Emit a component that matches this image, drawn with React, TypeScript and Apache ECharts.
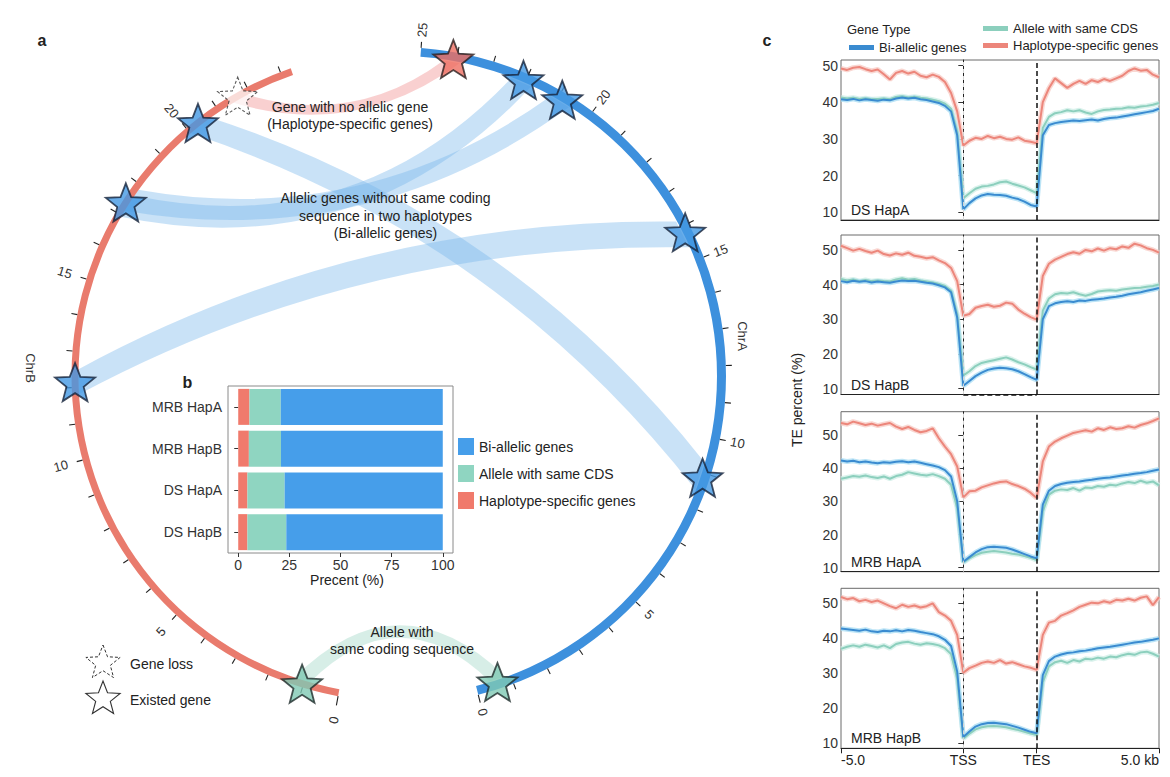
import React, { useEffect, useRef } from "react";
import * as echarts from "echarts";

// ===================== Panel a : two haplotype chromosomes =====================
const CHR_A_LEN = 25;
const CHR_B_LEN = 23.3;
const CHR_A_TICKS = [0, 1, 2, 3, 4, 5, 6, 7, 8, 9, 10, 11, 12, 13, 14, 15, 16, 17, 18, 19, 20, 21, 22, 23, 24, 25];
const CHR_B_TICKS = [0, 1, 2, 3, 4, 5, 6, 7, 8, 9, 10, 11, 12, 13, 14, 15, 16, 17, 18, 19, 20, 21, 22, 23];
const CHR_A_LABELS = [0, 5, 10, 15, 20, 25];
const CHR_B_LABELS = [0, 5, 10, 15, 20];

// genes (stars): position on chromosome, kind
const STAR_A_POS = [24.09, 22.07, 20.87, 15.82, 8.87, 0.6];
const STAR_A_KIND = ["specific", "bi", "bi", "bi", "bi", "same"];
const STAR_B_POS = [21.66, 20.34, 17.37, 12.15, 1.04];
const STAR_B_KIND = ["loss", "bi", "bi", "bi", "same"];

// links between ChrB interval and ChrA interval
const LINK_B_START = [20.0, 11.8, 16.95, 17.15, 21.45, 0.85];
const LINK_B_END = [20.7, 12.5, 17.65, 17.85, 21.9, 1.3];
const LINK_A_START = [8.5, 15.4, 21.8, 20.6, 23.9, 0.4];
const LINK_A_END = [9.3, 16.2, 22.4, 21.2, 24.35, 0.85];
const LINK_KIND = [0, 0, 0, 0, 1, 2]; // 0 bi-allelic, 1 haplotype-specific, 2 same CDS
const LINK_BEND = [0.15, 0.13, -0.28, -0.21, -0.25, 0.49];

// ===================== Panel b : proportions =====================
const B_CATS = ["MRB HapA", "MRB HapB", "DS HapA", "DS HapB"];
const B_SPECIFIC = [5.5, 5.2, 4.5, 4.5];
const B_SAME = [15.3, 15.7, 18.2, 19.0];
const B_BI = [79.2, 79.1, 77.3, 76.5];
const B_TICKS = [0, 25, 50, 75, 100];

// ===================== Panel c : TE profiles =====================
const C_PANELS = ["DS HapA", "DS HapB", "MRB HapA", "MRB HapB"];
const C_Y_TICKS = [10, 20, 30, 40, 50];
const X_TICKS = [-5, 0, 3, 8];
const X_TICK_LABELS = ["-5.0", "TSS", "TES", "5.0 kb"];
// bin positions (kb from TSS; gene body scaled to 0..3)
const X_KB = Array.from({ length: 53 }, (_, i) => -5 + i * 0.25);

const DS_HAPA_SPEC = [49.2, 48.8, 49.4, 49.6, 49.0, 48.5, 48.9, 47.6, 46.2, 48.0,
  48.5, 47.8, 48.3, 47.2, 46.8, 47.5, 46.9, 45.5, 42.5, 37.5,
  28.2, 29.5, 30.3, 30.0, 30.8, 30.2, 30.6, 30.0, 29.8, 30.4,
  29.5, 29.2, 28.8, 40.0, 43.8, 46.5, 45.2, 43.9, 45.0, 45.8,
  45.0, 46.0, 45.5, 46.3, 45.8, 46.5, 47.2, 48.5, 49.2, 48.6,
  48.8, 47.5, 46.8];
const DS_HAPA_BI = [40.8, 40.6, 40.9, 40.5, 40.8, 40.6, 40.4, 40.7, 40.5, 41.0,
  41.3, 41.0, 41.2, 40.8, 40.6, 40.2, 39.8, 39.0, 37.5, 31.0,
  10.8, 12.5, 13.8, 14.6, 15.0, 14.8, 14.7, 14.5, 14.0, 13.6,
  12.9, 12.0, 11.6, 31.0, 33.8, 34.3, 34.6, 34.8, 35.0, 34.9,
  35.1, 35.3, 35.0, 35.4, 35.7, 35.8, 36.1, 36.4, 36.7, 37.0,
  37.3, 37.6, 38.2];
const DS_HAPA_SAME = [41.3, 41.0, 41.2, 40.9, 41.1, 40.8, 40.9, 41.0, 40.8, 41.4,
  41.6, 41.3, 41.5, 41.2, 41.0, 40.7, 40.3, 39.6, 38.2, 32.0,
  13.8, 15.2, 16.4, 17.0, 17.2, 17.6, 18.2, 18.4, 17.8, 17.3,
  16.8, 16.0, 15.2, 33.0, 36.0, 37.0, 37.3, 37.8, 37.5, 37.8,
  37.2, 36.8, 37.5, 37.9, 38.0, 38.2, 38.3, 38.6, 38.5, 38.8,
  39.0, 39.3, 39.8];
const DS_HAPB_SPEC = [51.2, 50.5, 49.8, 50.3, 49.7, 49.2, 49.8, 48.8, 48.4, 49.0,
  48.6, 49.2, 48.3, 48.0, 47.6, 47.9, 47.0, 46.2, 44.8, 41.0,
  31.0, 31.5, 33.3, 33.8, 34.2, 33.6, 33.9, 34.8, 34.5, 32.8,
  31.6, 30.6, 29.9, 42.5, 46.0, 47.2, 48.0, 48.8, 49.3, 48.9,
  50.0, 49.6, 50.4, 49.8, 50.5, 50.2, 51.0, 50.6, 51.8, 51.3,
  50.5, 50.0, 49.2];
const DS_HAPB_BI = [41.0, 40.7, 41.1, 40.8, 41.0, 40.6, 40.9, 40.7, 40.5, 40.9,
  41.2, 41.0, 41.1, 40.8, 40.5, 40.3, 39.8, 39.2, 37.8, 30.5,
  10.8, 12.2, 13.6, 14.6, 15.4, 15.8, 16.0, 15.9, 15.6, 15.0,
  14.2, 13.3, 12.5, 30.0, 33.8, 34.6, 35.0, 35.2, 35.0, 35.4,
  35.3, 35.6, 35.8, 36.0, 36.3, 36.5, 36.8, 37.2, 37.5, 37.8,
  38.2, 38.6, 39.0];
const DS_HAPB_SAME = [41.6, 41.2, 41.5, 41.0, 41.3, 41.0, 41.2, 41.0, 40.9, 41.5,
  41.8, 41.4, 41.6, 41.2, 40.9, 40.6, 40.2, 39.6, 38.3, 31.5,
  13.8, 15.0, 16.5, 17.4, 17.8, 18.2, 18.6, 19.0, 18.4, 17.6,
  17.0, 16.2, 15.5, 32.5, 36.0, 37.2, 37.6, 37.4, 37.8, 37.2,
  36.8, 37.3, 38.0, 38.2, 38.4, 38.2, 38.6, 38.8, 39.0, 39.1,
  39.4, 39.6, 40.0];
const MRB_HAPA_SPEC = [53.6, 53.2, 54.0, 53.5, 53.0, 53.4, 52.8, 53.2, 53.6, 52.5,
  51.8, 52.4, 51.5, 50.8, 51.2, 52.0, 49.0, 46.5, 44.2, 40.5,
  31.2, 33.0, 33.2, 34.2, 34.8, 35.4, 35.8, 36.0, 35.2, 34.6,
  33.8, 32.6, 31.0, 42.0, 46.5, 48.0, 49.0, 49.8, 50.6, 51.0,
  51.4, 51.0, 52.0, 51.5, 52.3, 51.8, 52.0, 52.6, 52.2, 53.0,
  53.5, 54.2, 55.0];
const MRB_HAPA_BI = [42.3, 42.0, 42.2, 41.8, 42.0, 41.7, 41.5, 41.8, 41.6, 41.9,
  42.1, 41.8, 42.0, 41.6, 41.2, 40.8, 40.3, 39.4, 37.5, 30.0,
  11.8, 13.2, 14.6, 15.6, 16.2, 16.3, 16.2, 16.0, 15.5, 14.8,
  14.1, 13.4, 12.8, 29.0, 33.2, 34.6, 35.2, 35.6, 35.8, 36.0,
  36.3, 36.5, 36.8, 37.0, 37.2, 37.5, 37.8, 38.0, 38.3, 38.5,
  38.8, 39.2, 39.6];
const MRB_HAPA_SAME = [36.8, 37.2, 37.6, 37.4, 37.8, 37.3, 37.0, 37.5, 36.8, 37.6,
  38.0, 38.8, 38.4, 38.0, 37.8, 38.2, 37.6, 36.8, 35.0, 28.0,
  11.6, 12.8, 13.8, 14.5, 14.8, 15.0, 14.8, 14.6, 14.2, 14.0,
  13.5, 13.0, 12.3, 27.0, 32.0, 33.2, 33.6, 33.4, 34.0, 33.2,
  34.2, 34.0, 34.6, 34.4, 35.0, 34.8, 35.4, 35.8, 35.5, 36.2,
  35.6, 36.0, 34.8];
const MRB_HAPB_SPEC = [51.8, 51.2, 51.5, 50.6, 51.0, 50.4, 50.8, 50.0, 49.2, 48.6,
  49.6, 49.0, 49.4, 48.8, 49.2, 50.0, 47.5, 46.5, 45.0, 41.0,
  30.2, 31.5, 32.2, 33.0, 33.4, 33.0, 33.8, 32.8, 33.2, 32.6,
  32.0, 31.6, 31.0, 41.0, 44.5, 45.0, 46.5, 47.2, 48.0, 49.0,
  49.6, 50.2, 50.0, 50.6, 50.2, 51.0, 50.8, 51.3, 50.8, 51.6,
  52.0, 49.5, 51.8];
const MRB_HAPB_BI = [42.8, 42.6, 42.4, 42.2, 42.5, 42.0, 41.8, 42.2, 42.0, 42.3,
  42.0, 42.4, 42.2, 41.8, 41.5, 41.2, 40.6, 39.6, 37.8, 30.5,
  11.8, 13.4, 14.8, 15.5, 15.8, 15.9, 15.7, 15.5, 15.0, 14.5,
  13.9, 13.3, 12.9, 29.5, 33.5, 34.8, 35.4, 35.8, 36.0, 36.3,
  36.5, 36.8, 37.2, 37.4, 37.6, 37.9, 38.2, 38.5, 38.8, 39.0,
  39.3, 39.6, 40.0];
const MRB_HAPB_SAME = [37.0, 37.6, 38.0, 37.6, 38.2, 37.8, 37.4, 38.0, 37.2, 38.4,
  38.8, 39.0, 38.5, 38.2, 38.6, 38.4, 38.0, 37.2, 35.5, 28.5,
  11.4, 12.8, 14.0, 14.6, 14.9, 15.0, 14.8, 14.6, 14.2, 13.8,
  13.3, 12.8, 12.4, 27.5, 32.0, 33.2, 33.6, 33.0, 33.8, 33.4,
  34.2, 34.0, 34.5, 34.2, 34.8, 34.6, 35.2, 35.6, 35.3, 36.0,
  36.2, 35.6, 34.8];

const C_SPEC = [DS_HAPA_SPEC, DS_HAPB_SPEC, MRB_HAPA_SPEC, MRB_HAPB_SPEC];
const C_SAME = [DS_HAPA_SAME, DS_HAPB_SAME, MRB_HAPA_SAME, MRB_HAPB_SAME];
const C_BI = [DS_HAPA_BI, DS_HAPB_BI, MRB_HAPA_BI, MRB_HAPB_BI];

// ===================== layout / style =====================
const FONT = "'Liberation Sans', Arial, Helvetica, sans-serif";
const TXT = "#222";
const CX = 397;
const CY = 376;
const R_MAX = 400;
const DEG_PER_UNIT = 6.46;
const FULL_TURN = 360 / DEG_PER_UNIT;
const START_ANGLE = 284.3;
const B_ORIGIN = 51.9;
const gA = (v: number) => v;
const gB = (v: number) => B_ORIGIN - v;
const R_LINK = 319;
const R_STAR = 322;

const BLUE_BAR = "#469eea";
const TEAL_BAR = "#8fd5c1";
const RED_BAR = "#f07a6c";
const C_BLUE = "#3a8bd0";
const C_TEAL = "#8ccfbd";
const C_RED = "#ec867b";
const H_BLUE = "#a6dbf3";
const H_TEAL = "#cdeee5";
const H_RED = "#f7c9c3";

const RIBBON_FILL = ["rgba(120,182,236,0.40)", "rgba(244,170,170,0.55)", "rgba(160,214,198,0.42)"];

const C_LEFT = 841;
const C_WIDTH = 318;
const C_TOPS = [60, 235, 411.7, 588.3];
const C_HEIGHTS = [160, 159.5, 160, 160];
const C_YMIN = [7.9, 8.3, 8.8, 8.6];
const C_YMAX = [51.5, 54.3, 57.0, 54.3];

function starPts(cx: number, cy: number, ro: number, ri: number) {
  const pts: number[][] = [];
  for (let i = 0; i < 10; i++) {
    const a = -Math.PI / 2 + (i * Math.PI) / 5;
    const r = i % 2 === 0 ? ro : ri;
    pts.push([cx + r * Math.cos(a), cy + r * Math.sin(a)]);
  }
  return pts;
}
const STAR_SYMBOL =
  "path://" +
  starPts(0, 0, 10, 4.3)
    .map((p, i) => (i ? "L" : "M") + p[0].toFixed(3) + " " + p[1].toFixed(3))
    .join(" ") +
  " Z";

const STAR_STYLE: Record<string, any> = {
  bi: { color: "#4499e3", borderColor: "#17233a", borderWidth: 1.8 },
  specific: { color: "#ee6e62", borderColor: "#2a1f1f", borderWidth: 1.8 },
  same: { color: "#7fc9b4", borderColor: "#1e2c2a", borderWidth: 1.8 },
  loss: { color: "rgba(255,255,255,0.92)", borderColor: "#333", borderWidth: 1.1, borderType: [3, 2] },
};

function normSweep(a0: number, a1: number) {
  let b = a1;
  while (b > a0) b -= Math.PI * 2;
  while (a0 - b > Math.PI * 2) b += Math.PI * 2;
  return b;
}

function buildOption(): any {
  const ribbonData = LINK_KIND.map((k, i) => [
    gB(LINK_B_START[i]), gB(LINK_B_END[i]), gA(LINK_A_START[i]), gA(LINK_A_END[i]), LINK_BEND[i], k,
  ]);
  const ringData = [
    [gA(0), gA(CHR_A_LEN), 320, 329, 0],
    [gB(CHR_B_LEN), gB(0), 318.5, 325.5, 1],
  ];
  const tickData = [
    ...CHR_A_TICKS.map((v) => [gA(v), 329, v === 0 ? 337 : 335]),
    ...CHR_B_TICKS.map((v) => [gB(v), 325.5, v === 0 ? 335 : 331.5]),
  ];
  const labelItems = [
    ...CHR_A_LABELS.map((v) => ({ g: gA(v), r: 347, text: String(v) })),
    ...CHR_B_LABELS.map((v) => ({ g: gB(v), r: v === 0 ? 350 : 348, text: String(v) })),
  ];
  const starData = [
    ...STAR_A_POS.map((p, i) => ({ value: [R_STAR, gA(p)], itemStyle: STAR_STYLE[STAR_A_KIND[i]] })),
    ...STAR_B_POS.map((p, i) => ({ value: [R_STAR, gB(p)], itemStyle: STAR_STYLE[STAR_B_KIND[i]] })),
  ];

  const series: any[] = [];

  // ---- panel b bars ----
  const barNames = ["Haplotype-specific genes", "Allele with same CDS", "Bi-allelic genes"];
  const barVals = [B_SPECIFIC, B_SAME, B_BI];
  const barCols = [RED_BAR, TEAL_BAR, BLUE_BAR];
  barNames.forEach((n, i) => {
    series.push({
      type: "bar", name: n, stack: "b", xAxisIndex: 0, yAxisIndex: 0, barWidth: 36,
      data: barVals[i], itemStyle: { color: barCols[i] }, silent: true,
    });
  });

  // ---- panel a ----
  series.push({
    type: "custom", coordinateSystem: "polar", polarIndex: 0, z: 1, silent: true, clip: false,
    data: ribbonData,
    renderItem: (params: any, api: any) => {
      const b1 = api.coord([R_LINK, api.value(0)]);
      const b2 = api.coord([R_LINK, api.value(1)]);
      let a1 = api.coord([R_LINK, api.value(2)]);
      let a2 = api.coord([R_LINK, api.value(3)]);
      const bend = api.value(4);
      const kind = api.value(5);
      const d = (p: number[], q: number[]) => Math.hypot(p[0] - q[0], p[1] - q[1]);
      if (d(b1, a1) + d(b2, a2) > d(b1, a2) + d(b2, a1)) {
        const t = a1; a1 = a2; a2 = t;
      }
      const ctrl = (p: number[], q: number[]) => {
        const dx = q[0] - p[0], dy = q[1] - p[1];
        return [(p[0] + q[0]) / 2 + dy * bend, (p[1] + q[1]) / 2 - dx * bend];
      };
      const c1 = ctrl(b1, a1), c2 = ctrl(b2, a2);
      const f = (p: number[]) => p[0].toFixed(2) + " " + p[1].toFixed(2);
      const pathData = `M${f(b1)} Q${f(c1)} ${f(a1)} L${f(a2)} Q${f(c2)} ${f(b2)} Z`;
      return { type: "path", shape: { pathData }, style: { fill: RIBBON_FILL[kind], stroke: "none" } };
    },
  });
  series.push({
    type: "custom", coordinateSystem: "polar", polarIndex: 0, z: 2, silent: true, clip: false,
    data: ringData,
    renderItem: (params: any, api: any) => {
      const cx = params.coordSys.cx, cy = params.coordSys.cy;
      const r0 = api.value(2), r1 = api.value(3);
      const p0 = api.coord([r1, api.value(0)]);
      const p1 = api.coord([r1, api.value(1)]);
      const a0 = Math.atan2(p0[1] - cy, p0[0] - cx);
      const a1 = normSweep(a0, Math.atan2(p1[1] - cy, p1[0] - cx));
      return {
        type: "sector",
        shape: { cx, cy, r0, r: r1, startAngle: a0, endAngle: a1, clockwise: false },
        style: { fill: api.value(4) === 0 ? "#3d90dd" : "#e97b6d" },
      };
    },
  });
  series.push({
    type: "custom", coordinateSystem: "polar", polarIndex: 0, z: 2, silent: true, clip: false,
    data: tickData,
    renderItem: (params: any, api: any) => {
      const p0 = api.coord([api.value(1), api.value(0)]);
      const p1 = api.coord([api.value(2), api.value(0)]);
      return {
        type: "line",
        shape: { x1: p0[0], y1: p0[1], x2: p1[0], y2: p1[1] },
        style: { stroke: "#222", lineWidth: 1.1 },
      };
    },
  });
  series.push({
    type: "custom", coordinateSystem: "polar", polarIndex: 0, z: 3, silent: true, clip: false,
    data: labelItems.map((l) => [l.g, l.r]),
    renderItem: (params: any, api: any) => {
      const cx = params.coordSys.cx, cy = params.coordSys.cy;
      const item = labelItems[params.dataIndex];
      const p = api.coord([api.value(1), api.value(0)]);
      let rot = -Math.atan2(p[1] - cy, p[0] - cx);
      if (rot > Math.PI / 2) rot -= Math.PI;
      if (rot < -Math.PI / 2) rot += Math.PI;
      return {
        type: "text", x: p[0], y: p[1], rotation: rot,
        style: { text: item.text, fill: "#333", fontSize: 13, fontFamily: FONT, align: "center", verticalAlign: "middle" },
      };
    },
  });
  series.push({
    type: "scatter", coordinateSystem: "polar", polarIndex: 0, z: 4, silent: true, clip: false,
    symbol: STAR_SYMBOL, symbolSize: 40, symbolKeepAspect: true,
    data: starData,
  });

  // ---- panel c lines ----
  C_PANELS.forEach((_, p) => {
    const gi = p + 1;
    const sets = [
      { name: "Haplotype-specific genes", vals: C_SPEC[p], col: C_RED, halo: H_RED },
      { name: "Allele with same CDS", vals: C_SAME[p], col: C_TEAL, halo: H_TEAL },
      { name: "Bi-allelic genes", vals: C_BI[p], col: C_BLUE, halo: H_BLUE },
    ];
    sets.forEach((s, k) => {
      const halo: any = {
        type: "line", xAxisIndex: gi, yAxisIndex: gi, showSymbol: false, symbol: "none", silent: true, z: 2,
        data: s.vals.map((v, i) => [X_KB[i], v]),
        lineStyle: { color: s.halo, width: 5, opacity: 0.75 },
      };
      if (k === 0) {
        // TSS guide: faint grey dashed
        halo.markLine = {
          silent: true, symbol: ["none", "none"], label: { show: false }, animation: false,
          lineStyle: { color: "#d4d4d4", width: 1, type: [4, 3], opacity: 1 },
          emphasis: { disabled: true },
          data: [{ xAxis: X_TICKS[1] }],
        };
      }
      series.push(halo);
    });
    sets.forEach((s, k) => {
      const ser: any = {
        type: "line", name: s.name, xAxisIndex: gi, yAxisIndex: gi, showSymbol: false, symbol: "none", silent: true, z: 3,
        data: s.vals.map((v, i) => [X_KB[i], v]),
        lineStyle: { color: s.col, width: 2 },
        itemStyle: { color: s.col },
      };
      if (k === 0) {
        const md: any[] = [{ xAxis: X_TICKS[2] }];
        if (p === 1) {
          md.push([{ coord: [X_TICKS[1], C_YMIN[p]] }, { coord: [X_TICKS[2], C_YMIN[p]] }]);
        }
        ser.markLine = {
          silent: true, symbol: ["none", "none"], label: { show: false }, animation: false,
          lineStyle: { color: "#111", width: 1.5, type: [5, 3], opacity: 1 },
          emphasis: { disabled: true },
          data: md,
        };
      }
      series.push(ser);
    });
  });

  const grids: any[] = [
    { left: 228, top: 386, width: 225, height: 167, show: true, borderColor: "#8a8a8a", borderWidth: 1 },
    ...C_TOPS.map((t, i) => ({
      left: C_LEFT, top: t, width: C_WIDTH, height: C_HEIGHTS[i], show: true, borderColor: "#6a6a6a", borderWidth: 1,
    })),
  ];

  const xAxes: any[] = [
    {
      gridIndex: 0, type: "value", min: -5, max: 105,
      axisLine: { show: false }, splitLine: { show: false },
      axisTick: { show: true, customValues: B_TICKS, length: 4, lineStyle: { color: "#333" } },
      axisLabel: { customValues: B_TICKS, fontSize: 14, color: "#333", margin: 5, fontFamily: FONT },
    },
    ...C_PANELS.map((_, i) => ({
      gridIndex: i + 1, type: "value", min: X_TICKS[0], max: X_TICKS[3],
      axisLine: { show: true, lineStyle: { color: "#222", width: 1 } },
      splitLine: { show: false },
      axisTick: { show: i === 3, customValues: X_TICKS, length: 5, lineStyle: { color: "#222" } },
      axisLabel: {
        show: i === 3, customValues: X_TICKS, fontSize: 14, color: "#222", margin: 5, fontFamily: FONT,
        alignMinLabel: "left", alignMaxLabel: "right",
        formatter: (v: number) => {
          const k = X_TICKS.indexOf(v);
          return k >= 0 ? X_TICK_LABELS[k] : "";
        },
      },
    })),
  ];

  const yAxes: any[] = [
    {
      gridIndex: 0, type: "category", data: B_CATS, inverse: true,
      axisLine: { show: false },
      axisTick: { show: true, alignWithLabel: true, length: 4, lineStyle: { color: "#333" } },
      axisLabel: { fontSize: 14, color: "#333", margin: 6, fontFamily: FONT },
    },
    ...C_PANELS.map((_, i) => ({
      gridIndex: i + 1, type: "value", min: C_YMIN[i], max: C_YMAX[i],
      axisLine: { show: true, lineStyle: { color: "#222", width: 1 } },
      splitLine: { show: false },
      axisTick: { show: true, customValues: C_Y_TICKS, length: 5, lineStyle: { color: "#333" } },
      axisLabel: { customValues: C_Y_TICKS, fontSize: 14, color: "#333", margin: 3, fontFamily: FONT },
    })),
  ];

  const legendText = { fontSize: 14, color: TXT, fontFamily: FONT };
  const legends: any[] = [
    {
      left: 458, top: 438, orient: "vertical", padding: 0, itemGap: 10, itemWidth: 16, itemHeight: 17,
      icon: "rect", selectedMode: false, textStyle: legendText,
      data: [
        { name: "Bi-allelic genes", itemStyle: { color: BLUE_BAR, borderWidth: 0 } },
        { name: "Allele with same CDS", itemStyle: { color: TEAL_BAR, borderWidth: 0 } },
        { name: "Haplotype-specific genes", itemStyle: { color: RED_BAR, borderWidth: 0 } },
      ],
    },
    {
      left: 849, top: 41, orient: "horizontal", padding: 0, itemWidth: 25, itemHeight: 5,
      icon: "rect", selectedMode: false, textStyle: { ...legendText, fontSize: 13 },
      data: [{ name: "Bi-allelic genes", itemStyle: { color: C_BLUE, borderWidth: 0 } }],
    },
    {
      left: 983, top: 22, orient: "vertical", padding: 0, itemGap: 4, itemWidth: 25, itemHeight: 5,
      icon: "rect", selectedMode: false, textStyle: { ...legendText, fontSize: 13 },
      data: [
        { name: "Allele with same CDS", itemStyle: { color: C_TEAL, borderWidth: 0 } },
        { name: "Haplotype-specific genes", itemStyle: { color: C_RED, borderWidth: 0 } },
      ],
    },
  ];

  const txt = (x: number, y: number, text: string, extra: any = {}, el: any = {}) => ({
    type: "text", x, y, z: 100, silent: true, ...el,
    style: { text, fill: TXT, fontSize: 14, fontFamily: FONT, align: "center", verticalAlign: "middle", ...extra },
  });

  const graphic: any[] = [
    txt(42, 40, "a", { fontWeight: "bold", fontSize: 16 }),
    txt(187.5, 382.5, "b", { fontWeight: "bold", fontSize: 16 }),
    txt(767, 40, "c", { fontWeight: "bold", fontSize: 16 }),
    txt(350, 115.5, "Gene with no allelic gene\n(Haplotype-specific genes)", { lineHeight: 17.6 }),
    txt(385.5, 215.8, "Allelic genes without same coding\nsequence in two haplotypes\n(Bi-allelic genes)", { lineHeight: 17.5 }),
    txt(402, 640.5, "Allele with\nsame coding sequence", { lineHeight: 17.6 }),
    txt(742, 336, "ChrA", { fontSize: 13, fill: "#333" }, { rotation: -Math.PI / 2 }),
    txt(30, 368, "ChrB", { fontSize: 13, fill: "#333" }, { rotation: -Math.PI / 2 }),
    {
      type: "polygon", z: 100, silent: true,
      shape: { points: starPts(103, 663, 18, 7.7) },
      style: { fill: "#fff", stroke: "#333", lineWidth: 1, lineDash: [3, 2] },
    },
    {
      type: "polygon", z: 100, silent: true,
      shape: { points: starPts(103, 699, 18, 7.7) },
      style: { fill: "#fff", stroke: "#333", lineWidth: 1.1 },
    },
    txt(130, 664, "Gene loss", { align: "left" }),
    txt(130, 700, "Existed gene", { align: "left" }),
    txt(347, 580, "Precent (%)"),
    txt(847, 29.5, "Gene Type", { align: "left", fontSize: 13 }),
    txt(797, 400, "TE percent (%)", {}, { rotation: Math.PI / 2 }),
    ...C_PANELS.map((n, i) =>
      txt(851, C_TOPS[i] + C_HEIGHTS[i] - 10, n, { align: "left" })
    ),
  ];

  return {
    animation: false,
    backgroundColor: "#ffffff",
    textStyle: { fontFamily: FONT },
    polar: [{ center: [CX, CY], radius: R_MAX }],
    angleAxis: [{
      polarIndex: 0, type: "value", min: 0, max: FULL_TURN, startAngle: START_ANGLE, clockwise: false,
      show: false, axisLine: { show: false }, axisTick: { show: false }, axisLabel: { show: false }, splitLine: { show: false },
    }],
    radiusAxis: [{
      polarIndex: 0, type: "value", min: 0, max: R_MAX,
      show: false, axisLine: { show: false }, axisTick: { show: false }, axisLabel: { show: false }, splitLine: { show: false },
    }],
    grid: grids,
    xAxis: xAxes,
    yAxis: yAxes,
    legend: legends,
    series,
    graphic,
  };
}

export default function App() {
  const ref = useRef<HTMLDivElement>(null);
  useEffect(() => {
    if (!ref.current) return;
    const chart = echarts.init(ref.current, undefined, { renderer: "svg" });
    chart.setOption(buildOption());
    return () => chart.dispose();
  }, []);
  return (
    <div
      ref={ref}
      style={{ position: "absolute", left: 0, top: 0, width: 1170, height: 777, background: "#fff" }}
    />
  );
}
